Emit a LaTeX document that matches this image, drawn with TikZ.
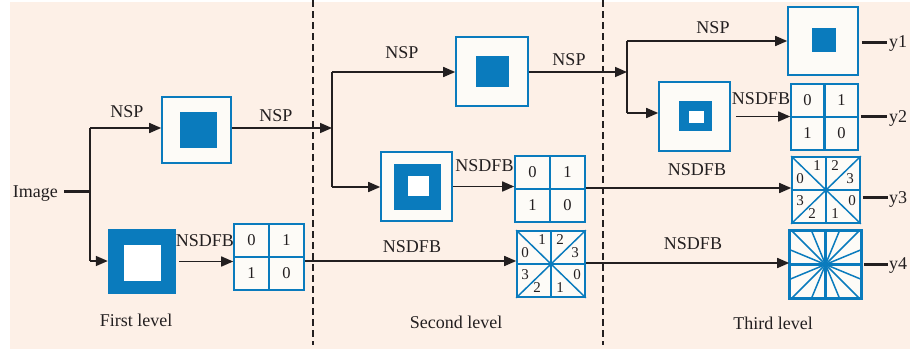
\documentclass[tikz,border=0pt]{standalone}
\usepackage{fontspec}
\setmainfont{Liberation Serif}
\usetikzlibrary{arrows.meta,calc}
\definecolor{bgc}{HTML}{FDF0E7}
\definecolor{bl}{HTML}{0A7BBD}
\definecolor{wf}{HTML}{FDFBF7}
\definecolor{ink}{HTML}{231F20}
\begin{document}
\begin{tikzpicture}[x=1pt,y=-1pt,
  lbl/.style={font=\fontsize{18}{19}\selectfont, text=ink, inner sep=0pt},
  num/.style={font=\fontsize{16.5}{17}\selectfont, text=ink, inner sep=0pt},
  snum/.style={font=\fontsize{15}{16}\selectfont, text=ink, inner sep=0pt},
  frame/.style={draw=bl, line width=1.6pt, fill=wf, inner sep=0pt},
  bluesq/.style={fill=bl, inner sep=0pt},
  whitesq/.style={fill=white, inner sep=0pt},
  conn/.style={draw=ink, line width=1.6pt},
  arr/.style={conn, -{Triangle[length=12pt,width=10pt]}},
  outline/.style={draw=ink, line width=3pt},
  cross/.style={draw=bl, line width=2.4pt},
  ray/.style={draw=bl, line width=1.5pt},
  sepline/.style={draw=ink, line width=1.4pt, dash pattern=on 7pt off 4pt},
]
\useasboundingbox (0,0) rectangle (910,351);
\fill[bgc] (10,2) rectangle (910,349);
\draw[sepline] (313,0) -- (313,345);
\draw[sepline] (603,0) -- (603,345);

% ---------- level 1 ----------
\node[lbl, anchor=base east] (img) at (58,197) {Image};
\coordinate (i0) at (64,191);
\coordinate (s1) at (90,191);
\coordinate (s1t) at (90,128);
\coordinate (s1b) at (90,261);

\node[frame, minimum width=69pt, minimum height=66pt] (b1) at (196.5,130) {};
\node[bluesq, minimum width=37pt, minimum height=36pt] (b1i) at (198.5,130) {};

\node[bluesq, minimum width=68pt, minimum height=65pt] (b2) at (142,261.5) {};
\node[whitesq, minimum width=37pt, minimum height=36pt] (b2i) at (142.5,263) {};

\node[frame, minimum width=70pt, minimum height=66pt] (g1) at (269,257) {};
\draw[cross] (g1.north) -- (g1.south) (g1.west) -- (g1.east);
\node[num] at ($(g1.center)+(-17.5,-16.5)$) {0};
\node[num] at ($(g1.center)+(17.5,-16.5)$) {1};
\node[num] at ($(g1.center)+(-17.5,16.5)$) {1};
\node[num] at ($(g1.center)+(17.5,16.5)$) {0};

\draw[outline] (i0) -- (s1);
\draw[conn] (s1t) -- (s1b);
\draw[arr] (s1t) -- (s1t -| b1.west);
\draw[arr] (s1b) -- (s1b -| b2.west);
\draw[arr] ($(b2.east)+(3,0)$) -- (b2.east -| g1.west);

\node[lbl, anchor=base] (l1) at (127,117) {NSP};
\node[lbl, anchor=base] (l2) at (276,121) {NSP};
\node[lbl, anchor=base] (l3) at (205,246) {NSDFB};
\node[lbl, anchor=base] (lv1) at (136,326) {First level};

% ---------- level 2 ----------
\coordinate (s2) at (332,128);
\coordinate (s2t) at (332,72);
\coordinate (s2b) at (332,187);

\node[frame, minimum width=72pt, minimum height=69pt] (b3) at (492,71.5) {};
\node[bluesq, minimum width=33pt, minimum height=31pt] (b3i) at (492.5,71) {};

\node[frame, minimum width=71pt, minimum height=69pt] (b4) at (416.5,186.5) {};
\node[bluesq, minimum width=47pt, minimum height=46pt] (b4r) at (417.5,187) {};
\node[whitesq, minimum width=21pt, minimum height=20pt] (b4i) at (418.5,186) {};

\node[frame, minimum width=70pt, minimum height=66pt] (g2) at (550,189) {};
\draw[cross] (g2.north) -- (g2.south) (g2.west) -- (g2.east);
\node[num] at ($(g2.center)+(-17.5,-16.5)$) {0};
\node[num] at ($(g2.center)+(17.5,-16.5)$) {1};
\node[num] at ($(g2.center)+(-17.5,16.5)$) {1};
\node[num] at ($(g2.center)+(17.5,16.5)$) {0};

\node[frame, minimum width=68pt, minimum height=66pt] (g8a) at (551,264) {};
\draw[ray] (g8a.north west) -- (g8a.south east) (g8a.north east) -- (g8a.south west);
\draw[cross] (g8a.north) -- (g8a.south) (g8a.west) -- (g8a.east);
\node[snum] at ($(g8a.center)+(-26,-11)$) {0};
\node[snum] at ($(g8a.center)+(-9,-24)$) {1};
\node[snum] at ($(g8a.center)+(9,-24)$) {2};
\node[snum] at ($(g8a.center)+(24,-11)$) {3};
\node[snum] at ($(g8a.center)+(-26,11)$) {3};
\node[snum] at ($(g8a.center)+(-14,24)$) {2};
\node[snum] at ($(g8a.center)+(26,11)$) {0};
\node[snum] at ($(g8a.center)+(9,24)$) {1};

\draw[arr] (b1.east |- s2) -- (s2);
\draw[conn] (s2t) -- (s2b);
\draw[arr] (s2t) -- (s2t -| b3.west);
\draw[arr] (s2b) -- (s2b -| b4.west);
\draw[arr] (b4.east) -- (b4.east -| g2.west);
\coordinate (r4) at (304,261);
\draw[arr] (g1.east |- r4) -- (r4 -| g8a.west);

\node[lbl, anchor=base] (l4) at (402,58) {NSP};
\node[lbl, anchor=base] (l5) at (569,65) {NSP};
\node[lbl, anchor=base] (l6) at (484.5,171) {NSDFB};
\node[lbl, anchor=base] (l7) at (412,252) {NSDFB};
\node[lbl, anchor=base] (lv2) at (456,328) {Second level};

% ---------- level 3 ----------
\coordinate (s3) at (627,72);
\coordinate (s3t) at (627,41);
\coordinate (s3b) at (627,113);

\node[frame, minimum width=70pt, minimum height=68pt] (b5) at (823,41) {};
\node[bluesq, minimum width=24pt, minimum height=24pt] (b5i) at (824,40) {};

\node[frame, minimum width=71pt, minimum height=69pt] (b6) at (694.5,116.5) {};
\node[bluesq, minimum width=33pt, minimum height=30pt] (b6r) at (695.5,116) {};
\node[whitesq, minimum width=15pt, minimum height=12pt] (b6i) at (696.5,117) {};

\node[frame, minimum width=67pt, minimum height=66pt] (g4) at (824.5,117) {};
\draw[cross] (g4.north) -- (g4.south) (g4.west) -- (g4.east);
\node[num] at ($(g4.center)+(-17,-16.5)$) {0};
\node[num] at ($(g4.center)+(17,-16.5)$) {1};
\node[num] at ($(g4.center)+(-17,16.5)$) {1};
\node[num] at ($(g4.center)+(17,16.5)$) {0};

\node[frame, minimum width=68pt, minimum height=66pt] (g5) at (826,190) {};
\draw[ray] (g5.north west) -- (g5.south east) (g5.north east) -- (g5.south west);
\draw[cross] (g5.north) -- (g5.south) (g5.west) -- (g5.east);
\node[snum] at ($(g5.center)+(-26,-11)$) {0};
\node[snum] at ($(g5.center)+(-9,-24)$) {1};
\node[snum] at ($(g5.center)+(9,-24)$) {2};
\node[snum] at ($(g5.center)+(24,-11)$) {3};
\node[snum] at ($(g5.center)+(-26,11)$) {3};
\node[snum] at ($(g5.center)+(-14,24)$) {2};
\node[snum] at ($(g5.center)+(26,11)$) {0};
\node[snum] at ($(g5.center)+(9,24)$) {1};

\node[frame, minimum width=71pt, minimum height=67pt] (g6) at (825.5,264.5) {};
\begin{scope}
  \clip (g6.south west) rectangle (g6.north east);
  \foreach \a in {22.5,45,67.5,112.5,135,157.5,202.5,225,247.5,292.5,315,337.5}
    \draw[ray] (g6.center) -- ++(\a:60pt);
\end{scope}
\draw[draw=bl, line width=1.6pt] (g6.south west) rectangle (g6.north east);
\draw[cross] (g6.north) -- (g6.south) (g6.west) -- (g6.east);

\draw[arr] (b3.east |- s3) -- (s3);
\draw[conn] (s3t) -- (s3b);
\draw[arr] (s3t) -- (s3t -| b5.west);
\draw[arr] (s3b) -- (s3b -| b6.west);
\draw[arr] ($(b6.east)+(5,0)$) -- (b6.east -| g4.west);
\coordinate (r3) at (585,188);
\draw[arr] (g2.east |- r3) -- (r3 -| g5.west);
\coordinate (r4b) at (585,263);
\draw[arr] (g8a.east |- r4b) -- (r4b -| g6.west);

\node[lbl, anchor=base] (l8) at (713,33) {NSP};
\node[lbl, anchor=base] (l9) at (761,104) {NSDFB};
\node[lbl, anchor=base] (l10) at (697,175) {NSDFB};
\node[lbl, anchor=base] (l11) at (693,249) {NSDFB};
\node[lbl, anchor=base] (lv3) at (773,329) {Third level};

% outputs
\coordinate (o1) at (887,42);
\coordinate (o2) at (887,116);
\coordinate (o3) at (888,197);
\coordinate (o4) at (888,264);
\draw[outline] ($(b5.east |- o1)+(3,0)$) -- (o1);
\draw[outline] ($(g4.east |- o2)+(2,0)$) -- (o2);
\draw[outline] ($(g5.east |- o3)+(2,0)$) -- (o3);
\draw[outline] ($(g6.east |- o4)+(2,0)$) -- (o4);
\node[lbl, anchor=base west] (y1) at (889,47) {y1};
\node[lbl, anchor=base west] (y2) at (889,122) {y2};
\node[lbl, anchor=base west] (y3) at (889,203) {y3};
\node[lbl, anchor=base west] (y4) at (889,269) {y4};
\end{tikzpicture}
\end{document}
